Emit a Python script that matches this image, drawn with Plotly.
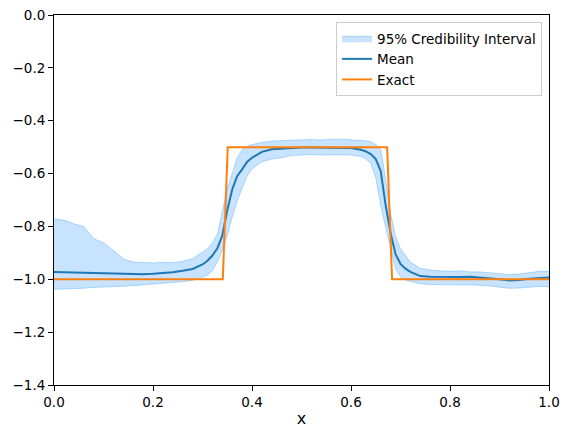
import plotly.graph_objects as go

# grid (denser through the two jumps)
x = [0.00, 0.02, 0.04, 0.06, 0.08, 0.10, 0.12, 0.14, 0.16, 0.18, 0.20, 0.22, 0.24,
     0.26, 0.28, 0.30, 0.31, 0.32, 0.33, 0.34, 0.35, 0.36, 0.37, 0.38, 0.39, 0.40,
     0.42, 0.44, 0.46, 0.48, 0.50, 0.52, 0.54, 0.56, 0.58, 0.60, 0.62, 0.63, 0.64,
     0.65, 0.66, 0.67, 0.68, 0.69, 0.70, 0.71, 0.72, 0.74, 0.76, 0.78, 0.80, 0.82,
     0.84, 0.86, 0.88, 0.90, 0.92, 0.94, 0.96, 0.98, 1.00]

mean = [-0.972, -0.973, -0.974, -0.975, -0.976, -0.978, -0.979, -0.981, -0.981, -0.981,
        -0.979, -0.977, -0.973, -0.968, -0.961, -0.944, -0.930, -0.910, -0.883, -0.835,
        -0.740, -0.660, -0.610, -0.584, -0.556, -0.540, -0.518, -0.508, -0.505, -0.503,
        -0.501, -0.501, -0.501, -0.502, -0.502, -0.503, -0.510, -0.516, -0.526, -0.545,
        -0.590, -0.720, -0.826, -0.905, -0.942, -0.960, -0.972, -0.988, -0.990, -0.991,
        -0.990, -0.991, -0.990, -0.993, -0.996, -1.000, -1.005, -1.003, -0.998, -0.995,
        -0.993]

upper = [-0.772, -0.776, -0.790, -0.800, -0.846, -0.862, -0.890, -0.923, -0.935, -0.937,
         -0.938, -0.936, -0.937, -0.932, -0.922, -0.897, -0.885, -0.862, -0.830, -0.745,
         -0.655, -0.600, -0.540, -0.510, -0.497, -0.490, -0.482, -0.477, -0.476, -0.474,
         -0.472, -0.471, -0.473, -0.470, -0.470, -0.472, -0.474, -0.476, -0.480, -0.490,
         -0.508, -0.620, -0.750, -0.838, -0.885, -0.910, -0.935, -0.958, -0.965, -0.968,
         -0.970, -0.968, -0.972, -0.972, -0.975, -0.978, -0.982, -0.980, -0.975, -0.970,
         -0.970]

lower = [-1.038, -1.037, -1.036, -1.034, -1.031, -1.030, -1.027, -1.026, -1.024, -1.021,
         -1.019, -1.016, -1.012, -1.009, -1.004, -0.992, -0.985, -0.968, -0.935, -0.890,
         -0.833, -0.765, -0.705, -0.655, -0.610, -0.582, -0.555, -0.545, -0.540, -0.532,
         -0.530, -0.528, -0.530, -0.529, -0.529, -0.530, -0.535, -0.545, -0.562, -0.615,
         -0.720, -0.805, -0.885, -0.960, -0.990, -1.002, -1.008, -1.017, -1.020, -1.021,
         -1.021, -1.021, -1.021, -1.022, -1.025, -1.030, -1.034, -1.033, -1.029, -1.027,
         -1.028]

# exact step solution
x_exact = [0.0, 0.341, 0.351, 0.673, 0.683, 1.0]
y_exact = [-1.0, -1.0, -0.5, -0.5, -1.0, -1.0]

band = "rgba(30,144,255,0.25)"
edge = "rgba(30,144,255,0.30)"

fig = go.Figure()
fig.add_trace(go.Scatter(x=x, y=upper, mode="lines", line=dict(color=edge, width=1),
                         showlegend=False, hoverinfo="skip"))
fig.add_trace(go.Scatter(x=x, y=lower, mode="lines", line=dict(color=edge, width=1),
                         fill="tonexty", fillcolor=band, name="95% Credibility Interval"))
fig.add_trace(go.Scatter(x=x, y=mean, mode="lines", line=dict(color="#1f77b4", width=2),
                         name="Mean"))
fig.add_trace(go.Scatter(x=x_exact, y=y_exact, mode="lines",
                         line=dict(color="#ff7f0e", width=2), name="Exact"))

axis_style = dict(showgrid=False, zeroline=False, showline=True, linecolor="black",
                  linewidth=1, mirror=True, ticks="outside", ticklen=5, tickcolor="black",
                  automargin=False, ticklabeloverflow="allow",
                  tickfont=dict(size=13.5, color="black"))

# page body has an 8px margin, so the figure is a bit smaller than the window
fig.update_layout(
    width=562, height=430,
    margin=dict(l=46, r=21, t=7, b=53),
    plot_bgcolor="white", paper_bgcolor="white",
    font=dict(family="DejaVu Sans", size=13.5, color="black"),
    xaxis=dict(range=[0, 1], tickvals=[0, 0.2, 0.4, 0.6, 0.8, 1.0],
               ticktext=["0.0", "0.2", "0.4", "0.6", "0.8", "1.0"],
               title=dict(text="x", standoff=3), **axis_style),
    yaxis=dict(range=[-1.4, 0], tickvals=[-1.4, -1.2, -1.0, -0.8, -0.6, -0.4, -0.2, 0.0],
               ticktext=["\u22121.4", "\u22121.2", "\u22121.0", "\u22120.8", "\u22120.6",
                         "\u22120.4", "\u22120.2", "0.0"], **axis_style),
    legend=dict(x=0.986, y=0.981, xanchor="right", yanchor="top", traceorder="normal",
                bordercolor="#cccccc", borderwidth=1, bgcolor="rgba(255,255,255,0.8)",
                font=dict(size=13.5), tracegroupgap=0),
)

fig.write_html("out.html")
